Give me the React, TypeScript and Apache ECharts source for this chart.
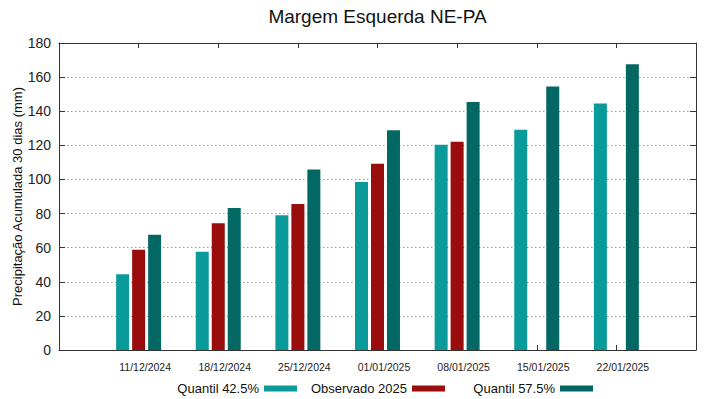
import React, { useEffect, useRef } from "react";
import * as echarts from "echarts";

const categories = ["11/12/2024", "18/12/2024", "25/12/2024", "01/01/2025", "08/01/2025", "15/01/2025", "22/01/2025"];
const quantil425 = [44.4, 57.6, 79, 98.5, 120.4, 129.2, 144.5];
const observado2025 = [58.8, 74.3, 85.6, 109.2, 122.1];
const quantil575 = [67.6, 83.3, 105.8, 128.8, 145.4, 154.5, 167.5];
const seriesNames = ["Quantil 42.5%", "Observado 2025", "Quantil 57.5%"];
const colors = ["#0a9a9a", "#990d0d", "#036864"];

const FONT = "'Liberation Sans', Arial, sans-serif";

export default function App() {
  const ref = useRef<HTMLDivElement>(null);
  useEffect(() => {
    if (!ref.current) return;
    const chart = echarts.init(ref.current, null, { renderer: "svg" });
    const toPairs = (arr: number[]) => arr.map((v, i) => [i, v]);
    const xLabel = (v: number) => {
      const i = Math.round(v);
      return i >= 0 && i < categories.length && Math.abs(v - i) < 1e-6 ? categories[i] : "";
    };
    const tickStyle = { show: true, inside: true, length: 5, lineStyle: { color: "#333" } };
    const axisLineStyle = { show: true, onZero: false, lineStyle: { color: "#333", width: 1 } };
    const barWidth = 13;
    const legendCommon = {
      orient: "horizontal" as const,
      align: "right" as const,
      padding: 0,
      itemWidth: 33,
      itemHeight: 6,
      top: 382,
      textStyle: { fontFamily: FONT, fontSize: 13, color: "#111" },
      icon: "rect",
      selectedMode: false,
    };
    chart.setOption({
      animation: false,
      backgroundColor: "#fff",
      textStyle: { fontFamily: FONT },
      graphic: [
        {
          type: "text",
          x: 377.5,
          y: 16,
          style: {
            text: "Margem Esquerda NE-PA",
            fontFamily: FONT,
            fontSize: 19,
            fill: "#111",
            align: "center",
            verticalAlign: "middle",
          },
        },
      ],
      legend: [
        { ...legendCommon, right: 719 - 297, data: [seriesNames[0]] },
        { ...legendCommon, right: 719 - 445, data: [seriesNames[1]] },
        { ...legendCommon, right: 719 - 593, data: [seriesNames[2]] },
      ],
      grid: { left: 59, right: 23, top: 43, bottom: 49, containLabel: false, outerBoundsMode: "none" },
      xAxis: [
        {
          type: "value",
          position: "bottom",
          min: -1,
          max: 7,
          interval: 1,
          axisLine: axisLineStyle,
          axisTick: tickStyle,
          splitLine: { show: false },
          axisLabel: {
            formatter: xLabel,
            fontFamily: FONT,
            fontSize: 10.5,
            color: "#222",
            margin: 11,
            padding: [0, 0, 0, 13],
            showMinLabel: false,
            showMaxLabel: false,
          },
        },
        {
          type: "value",
          position: "top",
          min: -1,
          max: 7,
          interval: 1,
          axisLine: axisLineStyle,
          axisTick: tickStyle,
          splitLine: { show: false },
          axisLabel: { show: false },
        },
      ],
      yAxis: [
        {
          type: "value",
          position: "left",
          min: 0,
          max: 180,
          interval: 20,
          name: "Precipitação Acumulada 30 dias (mm)",
          nameLocation: "middle",
          nameGap: 35,
          nameMoveOverlap: false,
          nameTextStyle: { fontFamily: FONT, fontSize: 13, color: "#111" },
          axisLine: axisLineStyle,
          axisTick: { show: true, inside: true, length: 6, lineStyle: { color: "#333" } },
          axisLabel: { fontFamily: FONT, fontSize: 14, color: "#222", margin: 8 },
          splitLine: { show: true, lineStyle: { color: "#9a9a9a", type: [1.5, 2.5], width: 1 } },
        },
        {
          type: "value",
          position: "right",
          min: 0,
          max: 180,
          interval: 20,
          axisLine: axisLineStyle,
          axisTick: { show: true, inside: true, length: 6, lineStyle: { color: "#333" } },
          axisLabel: { show: false },
          splitLine: { show: false },
        },
      ],
      series: [
        {
          name: seriesNames[0],
          type: "bar",
          xAxisIndex: 0,
          yAxisIndex: 0,
          barWidth,
          barGap: "23%",
          itemStyle: { color: colors[0] },
          data: toPairs(quantil425),
        },
        {
          name: seriesNames[1],
          type: "bar",
          xAxisIndex: 0,
          yAxisIndex: 0,
          barWidth,
          barGap: "23%",
          itemStyle: { color: colors[1] },
          data: toPairs(observado2025),
        },
        {
          name: seriesNames[2],
          type: "bar",
          xAxisIndex: 0,
          yAxisIndex: 0,
          barWidth,
          barGap: "23%",
          itemStyle: { color: colors[2] },
          data: toPairs(quantil575),
        },
      ],
    });
    return () => chart.dispose();
  }, []);
  return <div ref={ref} style={{ width: 719, height: 399, position: "absolute", left: 0, top: 0 }} />;
}
